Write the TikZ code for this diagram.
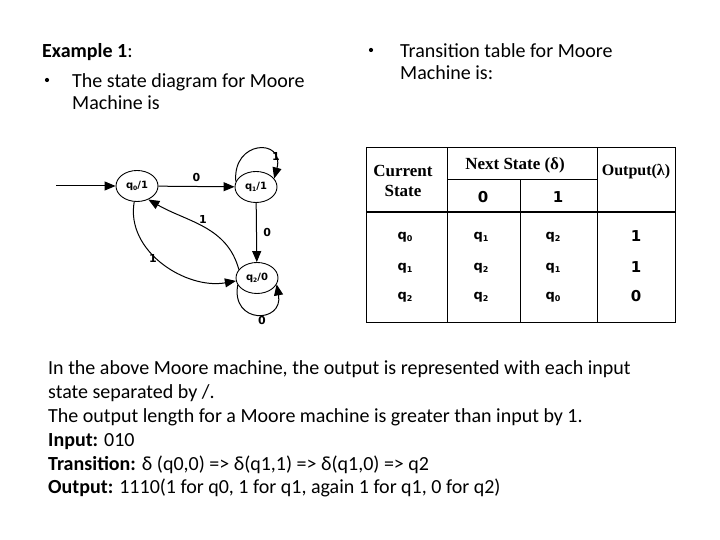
\documentclass[tikz,border=0pt]{standalone}
\usepackage{fontspec}
\setmainfont{Carlito}
\newfontfamily\djb{DejaVu Sans}
\newfontfamily\lser{Liberation Serif}
\usetikzlibrary{arrows.meta,shapes.geometric}
\newcommand{\qsub}[1]{q\raisebox{-0.35ex}{\fontsize{6}{6}\selectfont #1}}
\newcommand{\qtab}[1]{q\raisebox{-0.35ex}{\fontsize{8}{8}\selectfont #1}}
\tikzset{
  state/.style={ellipse,draw,line width=0.9pt,minimum width=42pt,minimum height=31pt,inner sep=0pt,font=\djb\bfseries\fontsize{10}{10}\selectfont},
  edge/.style={line width=1pt,-{Triangle[length=11pt,width=9pt]}},
  elab/.style={font=\djb\bfseries\fontsize{11}{11}\selectfont},
  txt/.style={anchor=base west,inner sep=0pt,font=\fontsize{20}{22}\selectfont},
  bul/.style={circle,fill=black,inner sep=0pt,minimum size=4.2pt},
  btxt/.style={anchor=base west,inner sep=0pt,font=\fontsize{20}{22}\selectfont},
  thead/.style={font=\lser\bfseries\fontsize{17}{17}\selectfont},
  tcell/.style={font=\djb\bfseries\fontsize{13}{13}\selectfont},
  tdig/.style={font=\djb\bfseries\fontsize{15}{15}\selectfont},
  tline/.style={line width=1pt}
}
\begin{document}
\begin{tikzpicture}[x=1pt,y=1pt]
\fill[white] (0,0) rectangle (720,540);
\useasboundingbox (0,0) rectangle (720,540);

% top texts
\node[txt] (ex) at (42,482) {\textbf{Example 1}:};
\node[bul] (b1) at (47,460) {};
\node[txt] (t1) at (72,452) {The state diagram for Moore};
\node[txt] (t2) at (72,430) {Machine is};
\node[bul] (b2) at (371,490) {};
\node[txt] (t3) at (400,482) {Transition table for Moore};
\node[txt] (t4) at (400,460) {Machine is:};

% state diagram
\node[state] (q0) at (137,354) {\qsub{0}/1};
\node[state] (q1) at (256,353) {\qsub{1}/1};
\node[state] (q2) at (257,262) {\qsub{2}/0};
\coordinate (st) at (56,354);
\draw[edge] (st) -- (q0);
\draw[edge] (q0) -- node[elab,above=1pt] {0} (q1);
\draw[edge] (q1.165) .. controls +(95:42) and +(75:42) .. (q1.25);
\node[elab] (l1) at (276,384) {1};
\draw[edge] (q1) -- node[elab,right=3pt] {0} (q2);
\draw[edge] (q2.155) to[out=105,in=-30] (q0.-50);
\node[elab] (l2) at (203,321) {1};
\draw[edge] (q0.-100) to[out=-100,in=190] (q2.188);
\node[elab] (l3) at (153,282) {1};
\draw[edge] (q2.200) .. controls +(-100:40) and +(-80:40) .. (q2.-18);
\node[elab] (l4) at (262,219) {0};

% table
\draw[tline] (366,217) rectangle (675,392);
\draw[tline] (447,217) -- (447,392);
\draw[tline] (597,217) -- (597,392);
\draw[tline] (520,217) -- (520,360);
\draw[tline] (447,360) -- (597,360);
\draw[line width=1.6pt] (366,328) -- (675,328);
\node[thead] (h1) at (403,369) {Current};
\node[thead] (h2) at (403,349) {State};
\node[thead] (h3) at (515,375) {Next State (δ)};
\node[thead,font=\lser\bfseries\fontsize{16}{16}\selectfont] (h4) at (636,368) {Output(λ)};
\node[tdig] (h5) at (483,343) {0};
\node[tdig] (h6) at (558,343) {1};
\node[tcell] (r11) at (405,303) {\qtab{0}};
\node[tcell] (r12) at (481,303) {\qtab{1}};
\node[tcell] (r13) at (553,303) {\qtab{2}};
\node[tdig] (r14) at (636,304) {1};
\node[tcell] (r21) at (405,272) {\qtab{1}};
\node[tcell] (r22) at (481,272) {\qtab{2}};
\node[tcell] (r23) at (553,272) {\qtab{1}};
\node[tdig] (r24) at (636,273) {1};
\node[tcell] (r31) at (405,243) {\qtab{2}};
\node[tcell] (r32) at (481,243) {\qtab{2}};
\node[tcell] (r33) at (553,243) {\qtab{0}};
\node[tdig] (r34) at (636,244) {0};

% bottom text
\node[btxt] (p1) at (48,165) {In the above Moore machine, the output is represented with each input};
\node[btxt] (p2) at (48,141) {state separated by /.};
\node[btxt] (p3) at (48,117) {The output length for a Moore machine is greater than input by 1.};
\node[btxt] (p4) at (48,93) {\textbf{Input:} 010};
\node[btxt] (p5) at (48,69) {\textbf{Transition:} δ (q0,0) => δ(q1,1) => δ(q1,0) => q2};
\node[btxt] (p6) at (48,46) {\textbf{Output:} 1110(1 for q0, 1 for q1, again 1 for q1, 0 for q2)};
\end{tikzpicture}
\end{document}
